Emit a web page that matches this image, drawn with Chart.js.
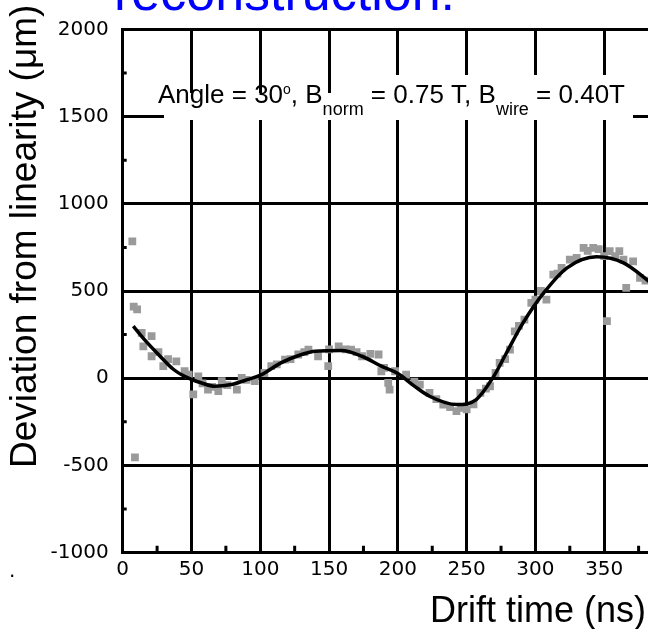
<!DOCTYPE html>
<html lang="en">
<head>
  <meta charset="UTF-8">
  <title>Deviation from linearity vs drift time</title>
  <script src="https://cdn.jsdelivr.net/npm/chart.js"></script>
  <style>
    html, body { margin: 0; padding: 0; background: #fff; overflow: hidden; }
    #wrap { position: relative; width: 648px; height: 629px; overflow: hidden; }
    canvas { position: absolute; left: 0; top: 0; }
  </style>
</head>
<body>
  <div id="wrap">
    <canvas id="driftChart" width="720" height="629"></canvas>
  </div>

  <script>
    // measured hits (grey squares)
    const driftTime = [7, 8, 8.9, 10.5, 13.8, 15, 21, 21, 26, 29.5, 33, 39, 45, 48, 51.3, 55, 58, 62, 65, 69.5, 72, 76, 83, 86.5, 90, 96, 103, 108, 112, 118, 122, 127.6, 132, 135, 142, 149.4, 150, 157, 162, 166, 170, 174, 180, 186, 188, 190, 193, 194, 198, 206, 212, 216, 223, 228, 233, 238, 242.6, 246, 250, 255, 260, 264, 267, 271, 274, 278, 281.5, 285, 288, 292, 297, 300, 304, 308, 313, 316, 319, 325, 330, 335, 338, 342, 346, 350, 352, 354, 358, 361, 364, 366, 371, 376, 380];
    const deviation = [785, 410, -453, 395, 260, 183, 241, 126, 150, 69, 110, 97, 40, 20, -93, 11, -30, -65, -50, -74, -17, -40, -65, 2, -10, -17, 30, 69, 80, 107, 110, 136, 150, 164, 126, 69, 165, 183, 165, 164, 150, 126, 140, 136, 40, 60, -26, -65, 40, 21, -20, -36, -84, -120, -151, -165, -189, -170, -179, -150, -84, -60, -46, 30, 88, 110, 164, 269, 300, 336, 432, 450, 500, 451, 594, 600, 633, 680, 690, 747, 730, 747, 740, 700, 327, 728, 700, 728, 680, 518, 670, 575, 560];

    // fitted curve
    const fitTime = [7.7, 16, 26, 37, 45, 57, 67, 79, 91, 101, 115, 130, 140, 159, 174, 188, 200, 212, 223, 243, 257, 269, 279, 291, 306, 323, 344.5, 364, 385];
    const fitValue = [298, 220, 136, 50, 11, -26, -46, -36, -7, 21, 88, 136, 155, 159, 126, 69, 27, -45, -103, -151, -122, 2, 146, 317, 489, 633, 696, 661, 540];

    const xTicks = [0, 50, 100, 150, 200, 250, 300, 350, 400];
    const yTicks = [-1000, -500, 0, 500, 1000, 1500, 2000];

    const SANS = '"Liberation Sans", Arial, sans-serif';

    // annotation runs: text, font size, baseline shift
    const noteParts = [
      ['Angle = 30', 26, 0], ['o', 14, -9], [', B', 26, 0], ['norm', 18, 12],
      [' = 0.75 T, B', 26, 0], ['wire', 18, 12], [' = 0.40T', 26, 0]
    ];

    const overlay = {
      id: 'overlay',
      beforeDatasetsDraw(chart) {
        const ctx = chart.ctx;
        ctx.save();
        // label background hides the grid behind the text
        ctx.fillStyle = '#fff';
        ctx.fillRect(164, 93, 206, 27);
        ctx.fillRect(370, 75, 263, 45);
        ctx.fillStyle = '#000';
        ctx.textAlign = 'left';
        ctx.textBaseline = 'alphabetic';
        let x = 158;
        noteParts.forEach(([t, s, dy]) => {
          ctx.font = s + 'px ' + SANS;
          ctx.fillText(t, x, 103 + dy);
          x += ctx.measureText(t).width;
        });
        ctx.restore();
      },
      afterDraw(chart) {
        const ctx = chart.ctx;
        const xs = chart.scales.x, ys = chart.scales.y;
        const area = chart.chartArea;
        ctx.save();
        // minor ticks
        ctx.strokeStyle = '#000';
        ctx.lineWidth = 3;
        ctx.beginPath();
        for (let v = 25; v < 400; v += 50) {
          const px = xs.getPixelForValue(v);
          ctx.moveTo(px, area.bottom);
          ctx.lineTo(px, area.bottom - 7);
        }
        for (let v = -750; v < 2000; v += 500) {
          const py = ys.getPixelForValue(v);
          ctx.moveTo(area.left, py);
          ctx.lineTo(area.left + 4, py);
        }
        ctx.stroke();

        // axis titles
        ctx.fillStyle = '#000';
        ctx.font = '36px ' + SANS;
        ctx.textAlign = 'right';
        ctx.textBaseline = 'alphabetic';
        ctx.fillText('Drift time (ns)', 646, 622);

        ctx.save();
        ctx.translate(36, 468);
        ctx.rotate(-Math.PI / 2);
        ctx.font = '37px ' + SANS;
        ctx.textAlign = 'left';
        ctx.fillText('Deviation from linearity (\u03bcm)', 0, 0);
        ctx.restore();

        // slide title, cut by the top edge
        ctx.fillStyle = '#0000ff';
        ctx.font = '52px ' + SANS;
        ctx.textAlign = 'left';
        ctx.fillText('reconstruction:', 114, 10);

        ctx.font = '20px "DejaVu Sans", sans-serif';
        ctx.fillStyle = '#000';
        ctx.fillText('.', 9, 577);
        ctx.restore();
      }
    };

    const ctx = document.getElementById('driftChart').getContext('2d');
    new Chart(ctx, {
      type: 'scatter',
      data: {
        datasets: [
          {
            label: 'Fit',
            data: fitTime.map((t, i) => ({ x: t, y: fitValue[i] })),
            showLine: true,
            borderColor: '#000',
            borderWidth: 3.5,
            pointRadius: 0,
            cubicInterpolationMode: 'monotone',
            order: 0
          },
          {
            label: 'Data',
            data: driftTime.map((t, i) => ({ x: t, y: deviation[i] })),
            pointStyle: 'rect',
            pointRadius: 5.5,
            backgroundColor: '#9a9a9a',
            borderWidth: 0,
            order: 1
          }
        ]
      },
      options: {
        responsive: false,
        animation: false,
        layout: { padding: { top: 29.3, right: 47, left: 0, bottom: 0 } },
        scales: {
          x: {
            type: 'linear', min: 0, max: 400,
            afterFit: s => { s.height = 76.3; },
            afterBuildTicks: s => { s.ticks = xTicks.map(v => ({ value: v })); },
            ticks: { color: '#000', padding: 5, autoSkip: false, maxRotation: 0,
                     font: { family: '"DejaVu Sans", sans-serif', size: 20 }, callback: v => String(v) },
            grid: { color: '#000', lineWidth: 3, drawTicks: false },
            border: { color: '#000', width: 3 }
          },
          y: {
            min: -1000, max: 2000,
            afterFit: s => { s.width = 122.7; },
            afterBuildTicks: s => { s.ticks = yTicks.map(v => ({ value: v })); },
            ticks: { color: '#000', padding: 14, autoSkip: false,
                     font: { family: '"DejaVu Sans", sans-serif', size: 20 }, callback: v => String(v) },
            grid: { color: '#000', lineWidth: 3, drawTicks: false },
            border: { color: '#000', width: 3 }
          }
        },
        plugins: { legend: { display: false }, tooltip: { enabled: false } }
      },
      plugins: [overlay]
    });
  </script>
</body>
</html>
